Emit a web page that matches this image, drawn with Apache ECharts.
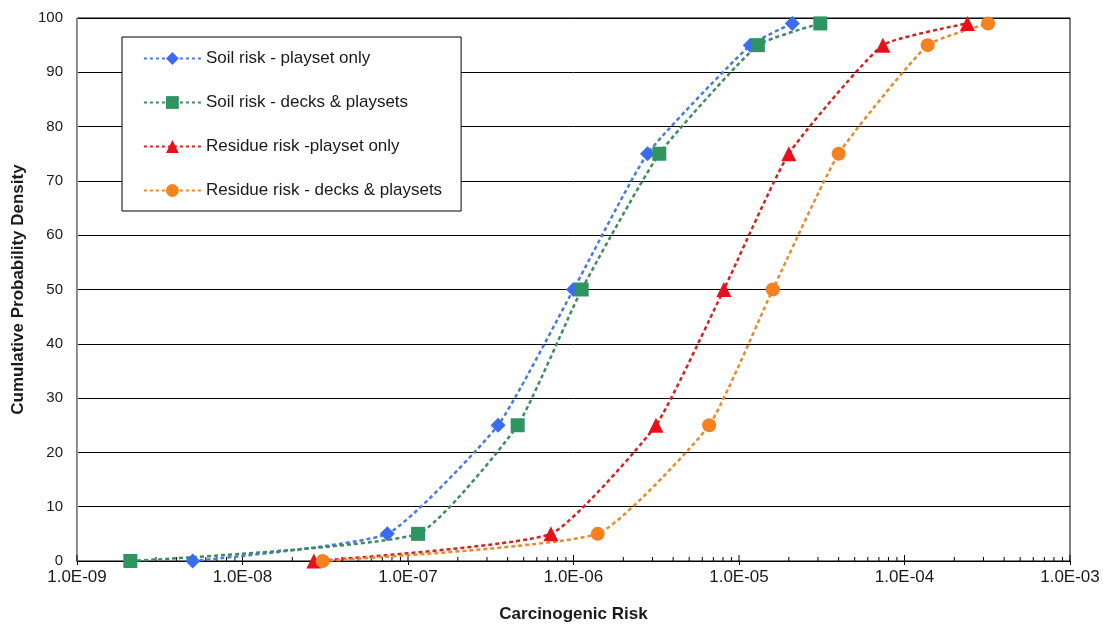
<!DOCTYPE html>
<html>
<head>
<meta charset="utf-8">
<script src="https://cdn.jsdelivr.net/npm/echarts@6/dist/echarts.min.js"></script>
<style>
  html, body { margin: 0; padding: 0; background: #fff; }
  #chart { width: 1103px; height: 629px; }
</style>
</head>
<body>
<div id="chart"></div>
<script>
// Cumulative probability levels (percent)
const percentiles = [0, 5, 25, 50, 75, 95, 99];

// Carcinogenic risk at each percentile
const soilPlaysetOnly   = [5.0e-9, 7.5e-8, 3.5e-7, 1.0e-6, 2.8e-6, 1.17e-5, 2.1e-5];
const soilDecksPlaysets = [2.1e-9, 1.15e-7, 4.6e-7, 1.12e-6, 3.3e-6, 1.3e-5, 3.1e-5];
const residuePlaysetOnly   = [2.7e-8, 7.3e-7, 3.15e-6, 8.1e-6, 2.0e-5, 7.4e-5, 2.4e-4];
const residueDecksPlaysets = [3.05e-8, 1.4e-6, 6.6e-6, 1.6e-5, 4.0e-5, 1.38e-4, 3.2e-4];

const seriesNames = [
  'Soil risk - playset only',
  'Soil risk - decks & playsets',
  'Residue risk -playset only',
  'Residue risk - decks & playsets'
];

// Axis tick labels
const xTickLabels = ['1.0E-09', '1.0E-08', '1.0E-07', '1.0E-06', '1.0E-05', '1.0E-04', '1.0E-03'];
const xDecadeExponents = [-9, -8, -7, -6, -5, -4, -3];
const minorMultipliers = [2, 3, 4, 5, 6, 7, 8, 9];

function pairs(xs) {
  return xs.map((x, i) => [x, percentiles[i]]);
}

// Inward tick marks along the log axis (majors and log minors)
const tickMarks = [];
xDecadeExponents.forEach((e, i) => {
  tickMarks.push([Math.pow(10, e), 1]);
  if (i < xDecadeExponents.length - 1) {
    minorMultipliers.forEach(m => tickMarks.push([m * Math.pow(10, e), 0]));
  }
});

const chart = echarts.init(document.getElementById('chart'), null, { renderer: 'canvas' });

const FONT = '"Liberation Sans", Arial, sans-serif';

function lineSeries(name, xs, symbol, size, markerColor, lineColor) {
  return {
    name: name,
    type: 'line',
    data: pairs(xs),
    symbol: symbol,
    symbolSize: size,
    smooth: 0.15,
    itemStyle: { color: markerColor },
    lineStyle: { color: lineColor, width: 2.5, type: [4, 3] },
    z: 3
  };
}

const option = {
  backgroundColor: '#ffffff',
  animation: false,
  textStyle: { fontFamily: FONT },
  grid: { left: 77, right: 33, top: 18, bottom: 68, show: true, borderColor: '#000', borderWidth: 1 },
  legend: {
    data: seriesNames,
    orient: 'vertical',
    left: 122,
    top: 37,
    padding: [13, 19, 12, 21],
    itemGap: 27,
    itemWidth: 57,
    itemHeight: 16,
    backgroundColor: '#fff',
    borderColor: '#000',
    borderWidth: 1,
    borderRadius: 0,
    lineStyle: { width: 1.8, type: [3, 3] },
    textStyle: { fontFamily: FONT, fontSize: 17, color: '#1a1a1a' }
  },
  xAxis: {
    type: 'log',
    logBase: 10,
    min: 1e-9,
    max: 1e-3,
    name: 'Carcinogenic Risk',
    nameLocation: 'middle',
    nameGap: 45,
    nameTextStyle: { fontFamily: FONT, fontSize: 17, fontWeight: 'bold', color: '#1a1a1a' },
    axisLine: { show: true, lineStyle: { color: '#000', width: 1 } },
    axisTick: { show: true, inside: false, length: 4, lineStyle: { color: '#000' } },
    axisLabel: {
      margin: 8,
      fontSize: 17,
      color: '#1a1a1a',
      showMinLabel: true,
      showMaxLabel: true,
      formatter: v => {
        const e = Math.round(Math.log10(v));
        const idx = xDecadeExponents.indexOf(e);
        return idx >= 0 ? xTickLabels[idx] : '';
      }
    },
    splitLine: { show: false },
    minorTick: { show: false },
    minorSplitLine: { show: false }
  },
  yAxis: {
    type: 'value',
    min: 0,
    max: 100,
    interval: 10,
    name: 'Cumulative Probability Density',
    nameLocation: 'middle',
    nameGap: 49,
    nameTextStyle: { fontFamily: FONT, fontSize: 17, fontWeight: 'bold', color: '#1a1a1a' },
    axisLine: { show: true, lineStyle: { color: '#9a9a9a', width: 1 } },
    axisTick: { show: false },
    axisLabel: { margin: 14, fontSize: 15, color: '#1a1a1a' },
    splitLine: { show: true, lineStyle: { color: '#000', width: 1 } }
  },
  series: [
    lineSeries(seriesNames[0], soilPlaysetOnly, 'diamond', 15, '#3a6cf0', '#4a7ae0'),
    lineSeries(seriesNames[1], soilDecksPlaysets, 'rect', 14, '#2e9460', '#3d8c5e'),
    lineSeries(seriesNames[2], residuePlaysetOnly, 'triangle', 15, '#e8101a', '#d42222'),
    lineSeries(seriesNames[3], residueDecksPlaysets, 'circle', 14, '#f5821f', '#e98a2c'),
    {
      name: 'ticks',
      type: 'custom',
      silent: true,
      clip: false,
      z: 1,
      data: tickMarks,
      renderItem: (params, api) => {
        const p = api.coord([api.value(0), 0]);
        const len = api.value(1) === 1 ? 6 : 4;
        return {
          type: 'line',
          shape: { x1: p[0], y1: p[1], x2: p[0], y2: p[1] - len },
          style: { stroke: '#000', lineWidth: 1 }
        };
      }
    }
  ]
};

chart.setOption(option);
</script>
</body>
</html>
